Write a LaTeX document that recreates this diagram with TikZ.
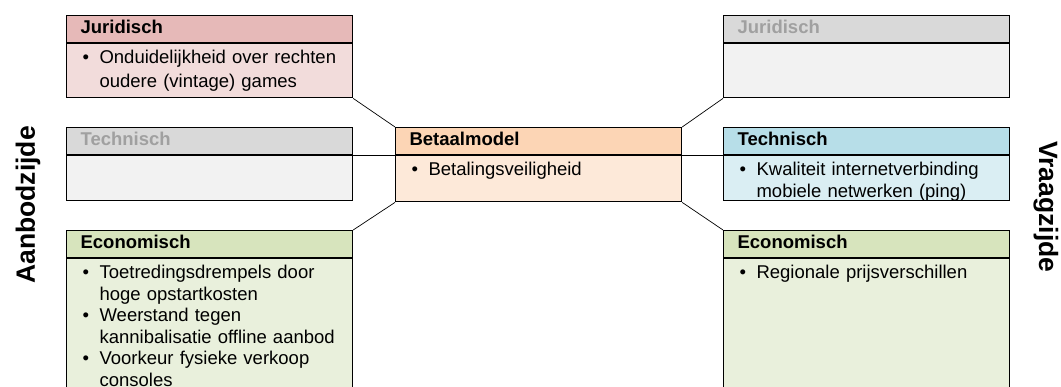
\documentclass[tikz,border=0pt]{standalone}
\usepackage{fontspec}
\setmainfont{Liberation Sans}
\usetikzlibrary{positioning}

\definecolor{jurkop}{HTML}{E6B9B8}
\definecolor{jurromp}{HTML}{F2DCDB}
\definecolor{grijskop}{HTML}{D9D9D9}
\definecolor{grijsromp}{HTML}{F2F2F2}
\definecolor{grijstekst}{HTML}{A0A0A0}
\definecolor{betkop}{HTML}{FCD5B5}
\definecolor{betromp}{HTML}{FDE9D9}
\definecolor{teckop}{HTML}{B7DEE8}
\definecolor{tecromp}{HTML}{DAEEF3}
\definecolor{ecokop}{HTML}{D7E4BD}
\definecolor{ecoromp}{HTML}{E9F0DC}

\newcommand{\lijst}[1]{\begin{tabular}[t]{@{}l@{\hspace{10.5pt}}l@{}}#1\end{tabular}}

\begin{document}
\begin{tikzpicture}[x=1pt, y=-1pt,
  kop/.style={draw=black, line width=1.2pt, anchor=north west, inner xsep=14pt, inner ysep=0pt,
    text width=258pt, align=left, text height=18pt, text depth=9pt,
    font=\bfseries\fontsize{18.5}{21.5}\selectfont},
  romp/.style={draw=black, line width=1.2pt, below=0pt of #1, inner xsep=16pt, inner ysep=0pt,
    text width=254pt, align=left, text height=20pt,
    font=\fontsize{18.5}{21.5}\selectfont},
  zijde/.style={font=\bfseries\fontsize{26.5}{30}\selectfont},
  lijn/.style={line width=0.7pt},
  dikkelijn/.style={line width=1.2pt}]

\clip (0,0) rectangle (1061,387);

\node[kop, fill=jurkop] (jurL) at (66,15) {Juridisch};
\node[romp=jurL, fill=jurromp, text depth=34pt, font=\fontsize{18.5}{24}\selectfont] (jurLb) {\lijst{\textbullet & Onduidelijkheid over rechten\\ & oudere (vintage) games}};

\node[kop, fill=grijskop, text=grijstekst] (tecL) at (66,127) {Technisch};
\node[romp=tecL, fill=grijsromp, text depth=25pt] (tecLb) {};

\node[kop, fill=ecokop] (ecoL) at (66,230) {Economisch};
\node[romp=ecoL, fill=ecoromp, text depth=160pt] (ecoLb) {\lijst{\textbullet & Toetredingsdrempels door\\ & hoge opstartkosten\\
  \textbullet & Weerstand tegen\\ & kannibalisatie offline aanbod\\
  \textbullet & Voorkeur fysieke verkoop\\ & consoles}};

\node[kop, fill=betkop] (bet) at (395,127) {Betaalmodel};
\node[romp=bet, fill=betromp, text depth=26pt] (betb) {\lijst{\textbullet & Betalingsveiligheid}};

\node[kop, fill=grijskop, text=grijstekst] (jurR) at (723,15) {Juridisch};
\node[romp=jurR, fill=grijsromp, text depth=34pt] (jurRb) {};

\node[kop, fill=teckop] (tecR) at (723,127) {Technisch};
\node[romp=tecR, fill=tecromp, text depth=25pt] (tecRb) {\lijst{\textbullet & Kwaliteit internetverbinding\\ & mobiele netwerken (ping)}};

\node[kop, fill=ecokop] (ecoR) at (723,230) {Economisch};
\node[romp=ecoR, fill=ecoromp, text depth=160pt] (ecoRb) {\lijst{\textbullet & Regionale prijsverschillen}};

\draw[lijn] (jurLb.south east) -- (bet.north west);
\draw[dikkelijn] (tecL.south east) -- (bet.south west);
\draw[lijn] (ecoL.north east) -- (betb.south west);
\draw[lijn] (bet.north east) -- (jurRb.south west);
\draw[dikkelijn] (bet.south east) -- (tecR.south west);
\draw[lijn] (betb.south east) -- (ecoR.north west);

\node[zijde, rotate=90] (aanbod) at (28,205) {Aanbodzijde};
\node[zijde, rotate=-90] (vraag) at (1046,207) {Vraagzijde};

\end{tikzpicture}
\end{document}
